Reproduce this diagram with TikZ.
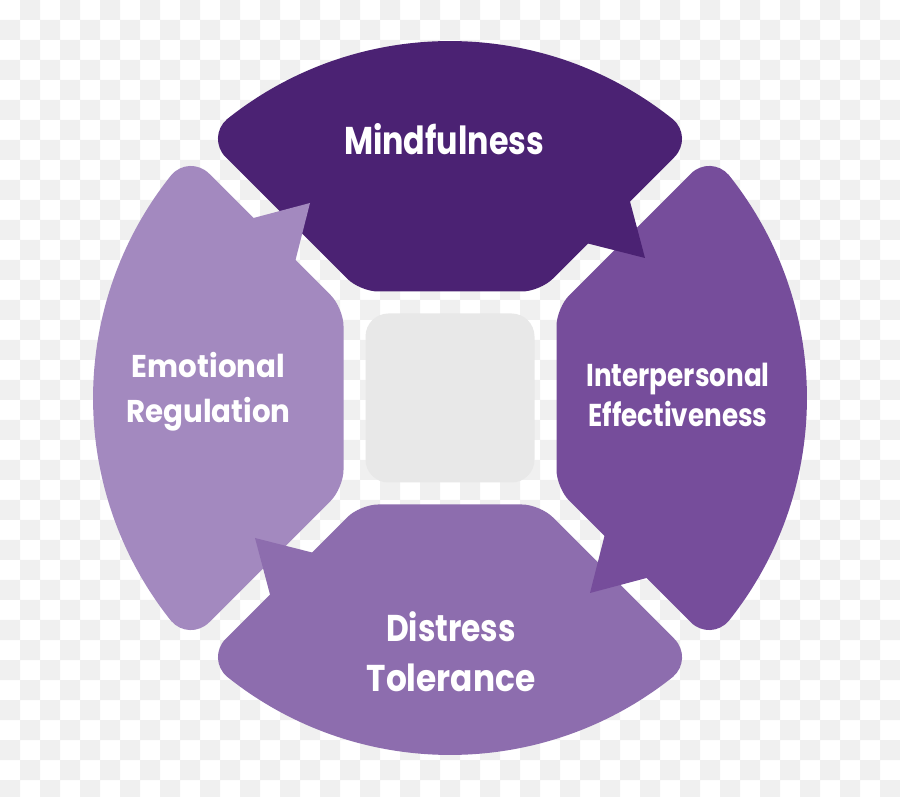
\documentclass[tikz,border=0pt]{standalone}
\usepackage{fontspec}
\usepackage{graphicx}
\setmainfont{Poppins}
\usetikzlibrary{calc}
\definecolor{cM}{RGB}{75,34,115}
\definecolor{cI}{RGB}{118,77,155}
\definecolor{cD}{RGB}{141,109,174}
\definecolor{cE}{RGB}{163,137,191}
\definecolor{checkgray}{RGB}{240,240,240}
\definecolor{coregray}{RGB}{232,232,232}
\newcommand\lbl[3]{{\fontsize{#1}{#1}\selectfont\bfseries\scalebox{#2}[1]{#3}}}
\newcommand\segbody{%
 (0,106.5) -- (-72,106.5) .. controls (-81.9,106.5) and (-95.73,112.23) .. (-102.73,119.23)
 -- (-224.25,240.75) .. controls (-235.14,251.64) and (-234.58,268.76) .. (-223.0,278.8)
 arc[start angle=128.64, end angle=51.36, radius=357]
 .. controls (234.58,268.76) and (235.14,251.64) .. (224.25,240.75)
 -- (102.73,119.23) .. controls (95.73,112.23) and (81.9,106.5) .. (72,106.5) -- cycle}
\newcommand\segtip{(179.25,199.3) -- (195,140) -- (135.15,155.2) -- cycle}
\tikzset{lab/.style={text=white, inner sep=0pt, anchor=base}}
\begin{document}
\begin{tikzpicture}[x=1pt,y=1pt]
\useasboundingbox (0,0) rectangle (900,796);
% transparent-style checker background
\fill[white] (0,0) rectangle (900,796);
\begin{scope}
\clip (0,0) rectangle (900,796);
\fill[checkgray]
  \foreach \i in {0,2,...,44}{\foreach \j in {1,3,...,39}{ ({20*\i},{776-20*\j}) rectangle ++(20,20) }}
  \foreach \i in {1,3,...,43}{\foreach \j in {0,2,...,38}{ ({20*\i},{776-20*\j}) rectangle ++(20,20) }};
\end{scope}
\begin{scope}[shift={(450,398)}]
  % centre square
  \fill[coregray, rounded corners=23] (-84.5,-84.5) rectangle (84.5,84.5);
  % bodies
  \fill[cM] \segbody;
  \begin{scope}[rotate=-90]\fill[cI] \segbody;\end{scope}
  \begin{scope}[rotate=-180]\fill[cD] \segbody;\end{scope}
  \begin{scope}[rotate=-270]\fill[cE] \segbody;\end{scope}
  % arrow tips
  \fill[cM] \segtip;
  \begin{scope}[rotate=-90]\fill[cI] \segtip;\end{scope}
  \begin{scope}[rotate=-180]\fill[cD] \segtip;\end{scope}
  \begin{scope}[rotate=-270]\fill[cE] \segtip;\end{scope}
\end{scope}
% labels
\node[lab] (mind) at (444,641) {\lbl{38.7}{0.82}{Mindfulness}};
\node[lab] (ip1) at (678,409) {\lbl{31.6}{0.83}{Interpersonal}};
\node[lab] (ip2) at (678,369) {\lbl{31.6}{0.83}{Effectiveness}};
\node[lab] (er1) at (208.5,418) {\lbl{31.5}{0.93}{Emotional}};
\node[lab] (er2) at (208.5,373) {\lbl{31.5}{0.93}{Regulation}};
\node[lab] (dt1) at (451,154) {\lbl{37.3}{0.84}{Distress}};
\node[lab] (dt2) at (451,105) {\lbl{37.3}{0.88}{Tolerance}};
\end{tikzpicture}
\end{document}
